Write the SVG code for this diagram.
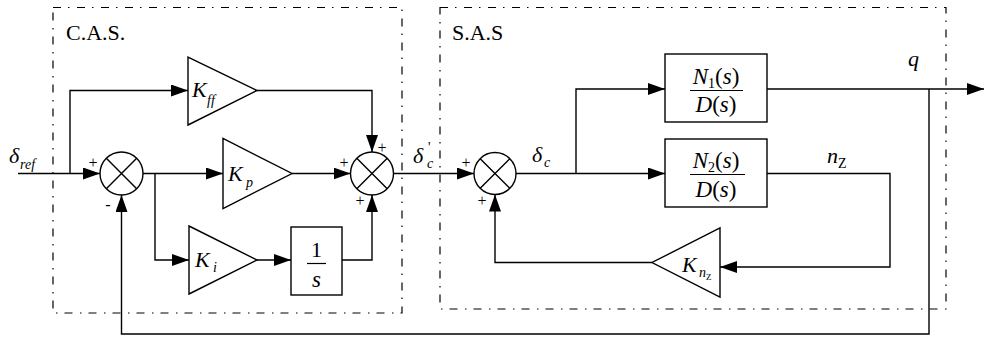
<svg xmlns="http://www.w3.org/2000/svg" width="984" height="337" viewBox="0 0 984 337">
<style>
.ln{fill:none;stroke:#000;stroke-width:1.4}
.blk{fill:#fff;stroke:#000;stroke-width:1.4}
.grp{fill:none;stroke:#000;stroke-width:1.2;stroke-dasharray:8 7 1.5 7.5}
.m{font-style:italic;font-size:22px}
.sub{font-style:italic;font-size:14px}
.sg{font-size:16px;text-anchor:middle}
.ttl{font-size:22px}
.fr{font-size:23px;text-anchor:middle}
</style>
<defs>
<marker id="ar" markerUnits="userSpaceOnUse" markerWidth="17" markerHeight="12" refX="17" refY="6" orient="auto">
<path d="M0,0 L17,6 L0,12 z" fill="#000"/>
</marker>
</defs>
<rect width="984" height="337" fill="#fff"/>
<g font-family="Liberation Serif, Times New Roman, serif">
<g id="cas-group">
<rect class="grp" x="53" y="7.5" width="349" height="305.5"/>
<text class="ttl" x="66" y="39.5">C.A.S.</text>
</g>
<g id="sas-group">
<rect class="grp" x="440" y="7.5" width="506" height="301.5"/>
<text class="ttl" x="452" y="39.5">S.A.S</text>
</g>
<g id="connectors">
<path class="ln" d="M18,173.5 H100" marker-end="url(#ar)"/>
<path class="ln" d="M70,173.5 V90.5 H188" marker-end="url(#ar)"/>
<path class="ln" d="M257,90.5 H372 V152" marker-end="url(#ar)"/>
<path class="ln" d="M143,173.5 H223" marker-end="url(#ar)"/>
<path class="ln" d="M155,173.5 V260 H189" marker-end="url(#ar)"/>
<path class="ln" d="M257,260 H291" marker-end="url(#ar)"/>
<path class="ln" d="M342,260 H372 V195" marker-end="url(#ar)"/>
<path class="ln" d="M292,173.5 H350.5" marker-end="url(#ar)"/>
<path class="ln" d="M393.5,173.5 H474" marker-end="url(#ar)"/>
<path class="ln" d="M516,173.5 H665" marker-end="url(#ar)"/>
<path class="ln" d="M576,173.5 V89 H665" marker-end="url(#ar)"/>
<path class="ln" d="M767,89 H984" marker-end="url(#ar)"/>
<path class="ln" d="M767,173.5 H890 V267 H720" marker-end="url(#ar)"/>
<path class="ln" d="M652,262.5 H495 V194.5" marker-end="url(#ar)"/>
<path class="ln" d="M929,89 V334 H121.5 V195" marker-end="url(#ar)"/>
</g>
<g id="input-label">
<text class="m" x="9" y="163">δ</text><text class="sub" x="20" y="169">ref</text>
</g>
<g id="sum1">
<circle class="blk" cx="121.5" cy="173.5" r="21.5"/>
<path class="ln" d="M106.3,158.3 L136.7,188.7 M136.7,158.3 L106.3,188.7"/>
<text class="sg" x="93" y="168">+</text>
<text class="sg" x="108" y="210">-</text>
</g>
<g id="kff">
<polygon class="blk" points="188,57 188,125 257,90.5"/>
<text class="m" x="192" y="97">K</text><text class="sub" x="207" y="105">ff</text>
</g>
<g id="kp">
<polygon class="blk" points="223,138.5 223,208.5 292,173.5"/>
<text class="m" x="228" y="181">K</text><text class="sub" x="246" y="187">p</text>
</g>
<g id="ki">
<polygon class="blk" points="189,226 189,294 257,260"/>
<text class="m" x="195" y="267">K</text><text class="sub" x="213" y="272">i</text>
</g>
<g id="integrator">
<rect class="blk" x="291" y="227" width="51" height="68"/>
<text class="fr" x="316.5" y="257" style="font-size:22px">1</text>
<line class="ln" x1="307" y1="263.5" x2="326" y2="263.5" style="stroke-width:1.2"/>
<text class="fr m" x="316.5" y="287">s</text>
</g>
<g id="sum2">
<circle class="blk" cx="372" cy="173.5" r="21.5"/>
<path class="ln" d="M356.8,158.3 L387.2,188.7 M387.2,158.3 L356.8,188.7"/>
<text class="sg" x="382" y="153">+</text>
<text class="sg" x="344" y="168">+</text>
<text class="sg" x="360" y="206">+</text>
</g>
<g id="dc-prime-label">
<text class="m" x="413" y="163">δ</text><text class="sub" x="428" y="152" style="font-style:normal">'</text><text class="sub" x="427" y="168">c</text>
</g>
<g id="sum3">
<circle class="blk" cx="495" cy="173.5" r="21"/>
<path class="ln" d="M480.2,158.7 L509.8,188.3 M509.8,158.7 L480.2,188.3"/>
<text class="sg" x="466" y="168">+</text>
<text class="sg" x="482" y="206">+</text>
</g>
<g id="dc-label">
<text class="m" x="532" y="162">δ</text><text class="sub" x="544" y="167">c</text>
</g>
<g id="n1-block">
<rect class="blk" x="665" y="54" width="102" height="68"/>
<text class="fr" x="716" y="84"><tspan font-style="italic">N</tspan><tspan font-size="14" dy="4">1</tspan><tspan dy="-4">(</tspan><tspan font-style="italic">s</tspan>)</text>
<line class="ln" x1="690" y1="90.5" x2="743" y2="90.5" style="stroke-width:1.2"/>
<text class="fr" x="716" y="112"><tspan font-style="italic">D</tspan>(<tspan font-style="italic">s</tspan>)</text>
</g>
<g id="n2-block">
<rect class="blk" x="665" y="139" width="102" height="68"/>
<text class="fr" x="716" y="168"><tspan font-style="italic">N</tspan><tspan font-size="14" dy="4">2</tspan><tspan dy="-4">(</tspan><tspan font-style="italic">s</tspan>)</text>
<line class="ln" x1="690" y1="174.5" x2="745" y2="174.5" style="stroke-width:1.2"/>
<text class="fr" x="716" y="197"><tspan font-style="italic">D</tspan>(<tspan font-style="italic">s</tspan>)</text>
</g>
<g id="q-label">
<text class="m" x="908" y="66">q</text>
</g>
<g id="nz-label">
<text class="m" x="827" y="163">n</text><text x="838" y="168" style="font-size:14px">Z</text>
</g>
<g id="knz">
<polygon class="blk" points="720,228 720,297 652,262.5"/>
<text class="m" x="682" y="272">K</text><text class="sub" x="699" y="277">n</text><text x="706" y="280" style="font-size:9px">Z</text>
</g>
</g>
</svg>
